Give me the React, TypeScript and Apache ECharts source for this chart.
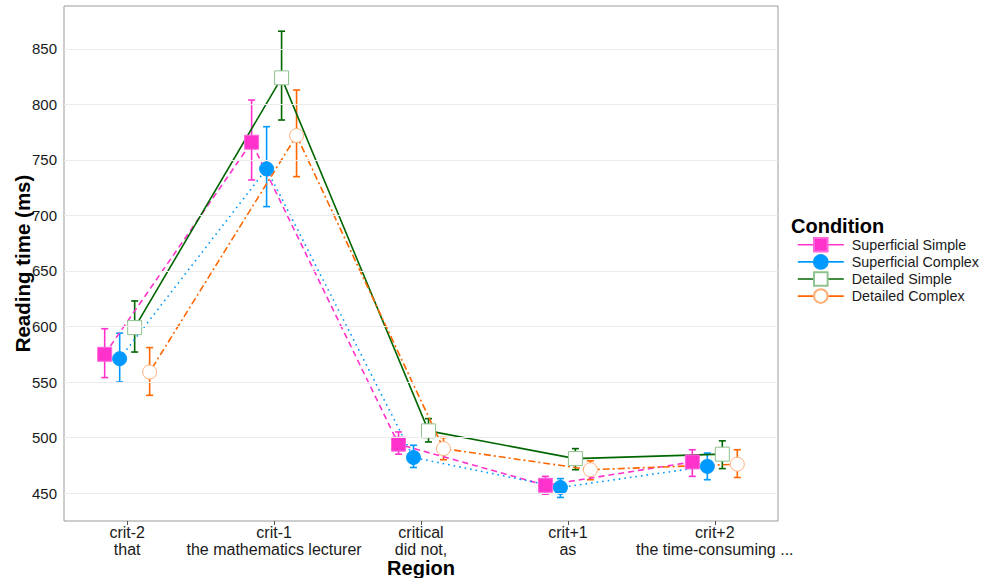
import React, { useEffect, useRef } from "react";
import * as echarts from "echarts";

// Regions along the sentence (two-line tick labels)
const regions = [
  "crit-2\nthat",
  "crit-1\nthe mathematics lecturer",
  "critical\ndid not,",
  "crit+1\nas",
  "crit+2\nthe time-consuming ...",
];
const regionIndex = [0, 1, 2, 3, 4];
const yTicks = [450, 500, 550, 600, 650, 700, 750, 800, 850];

const conditions = [
  "Superficial Simple",
  "Superficial Complex",
  "Detailed Simple",
  "Detailed Complex",
];

// Mean reading times (ms) with confidence limits, per region
const superficialSimpleMean = [575, 766, 494, 457, 478];
const superficialSimpleLow = [554, 732, 485, 449, 465];
const superficialSimpleHigh = [598, 804, 505, 465, 489];

const superficialComplexMean = [571, 742, 482, 455, 474];
const superficialComplexLow = [550, 708, 473, 446, 462];
const superficialComplexHigh = [594, 780, 493, 463, 486];

const detailedSimpleMean = [599, 824, 506, 481, 485];
const detailedSimpleLow = [577, 786, 496, 471, 472];
const detailedSimpleHigh = [623, 866, 517, 490, 497];

const detailedComplexMean = [559, 772, 490, 471, 476];
const detailedComplexLow = [538, 735, 480, 462, 464];
const detailedComplexHigh = [581, 813, 500, 479, 489];

const means = [superficialSimpleMean, superficialComplexMean, detailedSimpleMean, detailedComplexMean];
const lows = [superficialSimpleLow, superficialComplexLow, detailedSimpleLow, detailedComplexLow];
const highs = [superficialSimpleHigh, superficialComplexHigh, detailedSimpleHigh, detailedComplexHigh];

const FONT = "'Liberation Sans', Arial, sans-serif";

const styles = [
  { color: "#FF33CC", dash: [6, 4] as any, symbol: "rect", fill: "#FF33CC", border: "#FF66DD" },
  { color: "#0099FF", dash: [1.6, 4] as any, symbol: "circle", fill: "#0099FF", border: "#0099FF" },
  { color: "#006600", dash: "solid" as any, symbol: "rect", fill: "#FFFFFF", border: "#8FC28F" },
  { color: "#FF6600", dash: [2, 3, 7, 3] as any, symbol: "circle", fill: "#FFFFFF", border: "#FFB07A" },
];

// horizontal dodge between the four conditions, in category units
const DODGE = 0.102;
const dodge = (k: number) => (k - 1.5) * DODGE;

export default function App() {
  const ref = useRef<HTMLDivElement>(null);

  useEffect(() => {
    if (!ref.current) return;
    const chart = echarts.init(ref.current, null, { renderer: "svg" });

    const series: any[] = [];

    // gridlines at the y ticks
    series.push({
      type: "line",
      data: [],
      silent: true,
      z: 0,
      markLine: {
        silent: true,
        symbol: ["none", "none"],
        label: { show: false },
        lineStyle: { color: "#EBEBEB", width: 1, type: "solid" },
        emphasis: { disabled: true },
        data: yTicks.map((v) => ({ yAxis: v })),
      },
    });

    conditions.forEach((name, k) => {
      const st = styles[k];
      series.push({
        type: "custom",
        name: name + " CI",
        z: 1,
        silent: true,
        data: regionIndex.map((i) => [i + dodge(k), lows[k][i], highs[k][i]]),
        renderItem: (params: any, api: any) => {
          const x = api.value(0);
          const lo = api.coord([x, api.value(1)]);
          const hi = api.coord([x, api.value(2)]);
          const cap = 3.5;
          const s = { stroke: st.color, lineWidth: 1.6 };
          return {
            type: "group",
            children: [
              { type: "line", shape: { x1: lo[0], y1: lo[1], x2: hi[0], y2: hi[1] }, style: s },
              { type: "line", shape: { x1: lo[0] - cap, y1: lo[1], x2: lo[0] + cap, y2: lo[1] }, style: s },
              { type: "line", shape: { x1: hi[0] - cap, y1: hi[1], x2: hi[0] + cap, y2: hi[1] }, style: s },
            ],
          };
        },
      });
    });

    conditions.forEach((name, k) => {
      const st = styles[k];
      series.push({
        type: "line",
        name,
        z: 2,
        data: regionIndex.map((i) => [i + dodge(k), means[k][i]]),
        symbol: st.symbol,
        symbolSize: 14,
        showAllSymbol: true,
        lineStyle: { color: st.color, width: 1.6, type: st.dash },
        itemStyle: { color: st.fill, borderColor: st.border, borderWidth: 1 },
        emphasis: { disabled: true },
      });
    });

    chart.setOption({
      animation: false,
      textStyle: { fontFamily: FONT },
      title: {
        text: "Condition",
        left: 791,
        top: 216,
        padding: 0,
        textStyle: { fontFamily: FONT, fontSize: 20, fontWeight: "bold", color: "#000" },
      },
      legend: {
        data: conditions,
        orient: "vertical",
        left: 797,
        top: 237,
        padding: 0,
        itemWidth: 46,
        itemHeight: 17,
        itemGap: 1.5,
        selectedMode: false,
        lineStyle: { type: "solid", width: 1.6 },
        textStyle: { fontFamily: FONT, fontSize: 14.3, color: "#1a1a1a", padding: [0, 0, 0, 3] },
      },
      grid: {
        left: 64,
        right: 203,
        top: 6,
        bottom: 57,
        show: true,
        borderColor: "#9a9a9a",
        borderWidth: 1,
        backgroundColor: "transparent",
        containLabel: false,
        outerBoundsMode: "none",
      },
      xAxis: {
        type: "value",
        min: -0.43,
        max: 4.43,
        name: "Region",
        nameLocation: "middle",
        nameGap: 37,
        nameMoveOverlap: false,
        nameTextStyle: { fontFamily: FONT, fontSize: 20, fontWeight: "bold", color: "#000" },
        axisLine: { show: false },
        splitLine: { show: false },
        axisTick: {
          show: true,
          length: 4,
          customValues: regionIndex,
          lineStyle: { color: "#555" },
        },
        axisLabel: {
          customValues: regionIndex,
          formatter: (v: number) => regions[Math.round(v)] ?? "",
          fontFamily: FONT,
          fontSize: 16,
          lineHeight: 17,
          color: "#1a1a1a",
          margin: 3,
        },
      },
      yAxis: {
        type: "value",
        min: 424.8,
        max: 888.7,
        name: "Reading time (ms)",
        nameLocation: "middle",
        nameGap: 31,
        nameMoveOverlap: false,
        nameTextStyle: { fontFamily: FONT, fontSize: 20.5, fontWeight: "bold", color: "#000" },
        axisLine: { show: false },
        splitLine: { show: false },
        axisTick: {
          show: true,
          length: 4,
          customValues: yTicks,
          lineStyle: { color: "#555" },
        },
        axisLabel: {
          customValues: yTicks,
          fontFamily: FONT,
          fontSize: 15,
          color: "#1a1a1a",
          margin: 7,
        },
      },
      series,
    });

    return () => chart.dispose();
  }, []);

  return <div ref={ref} style={{ width: 981, height: 578, position: "absolute", left: 0, top: 0 }} />;
}
